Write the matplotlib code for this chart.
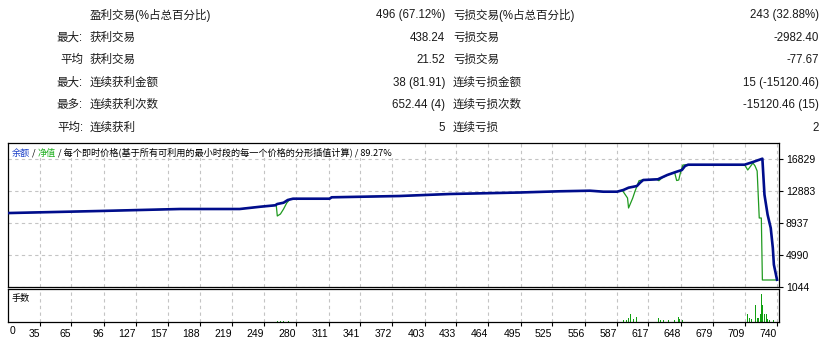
import matplotlib
matplotlib.use("agg")
import matplotlib.pyplot as plt
from matplotlib import font_manager
from matplotlib.patches import Rectangle

# summary table (six rows, two halves)
row_prefix = ["", "最大:", "平均", "最大:", "最多:", "平均:"]
win_labels = ["盈利交易(%占总百分比)", "获利交易", "获利交易", "连续获利金额", "连续获利次数", "连续获利"]
win_values = ["496 (67.12%)", "438.24", "21.52", "38 (81.91)", "652.44 (4)", "5"]
loss_labels = ["亏损交易(%占总百分比)", "亏损交易", "亏损交易", "连续亏损金额", "连续亏损次数", "连续亏损"]
loss_values = ["243 (32.88%)", "-2982.40", "-77.67", "15 (-15120.46)", "-15120.46 (15)", "2"]

# balance curve (trade number, value)
bal_trade = [0, 92, 169, 226, 246, 260, 262, 268, 272, 277, 312, 314, 379, 427, 494, 532, 561, 574, 587, 593,
             598, 606, 609, 612, 626, 635, 644, 649, 652, 655, 709, 717, 726, 728, 731, 734, 736, 737, 740]
bal_value = [10150, 10416, 10662, 10662, 10946, 11118, 11279, 11439, 11772, 11932, 11932, 12105, 12265, 12512,
             12697, 12845, 12919, 12796, 12796, 13005, 13289, 13498, 13905, 14238, 14325, 14855, 15262, 15471,
             15965, 16125, 16125, 16458, 16865, 12426, 9959, 8319, 5853, 3794, 1944]

# equity curve (trade number, value)
eq_trade = [0, 92, 169, 226, 246, 260, 261, 262, 265, 268, 271, 274, 277, 312, 314, 379, 427, 494, 532, 561,
            574, 587, 592, 597, 598, 602, 604, 608, 611, 625, 627, 630, 635, 642, 644, 646, 648, 650, 655, 709,
            712, 717, 719, 721, 723, 725, 726, 740]
eq_value = [10150, 10416, 10662, 10662, 10946, 11118, 11118, 9799, 10046, 10662, 11402, 11850, 11932, 11932,
            12105, 12265, 12512, 12697, 12845, 12919, 12796, 12796, 12968, 12018, 10785, 12018, 12796, 14152,
            14238, 14325, 14152, 14500, 14855, 15200, 14176, 14238, 15348, 16088, 16125, 16125, 15471, 16335,
            15965, 15348, 9552, 9552, 1907, 1907]

# lots per trade (only trades with visible bars)
lot_trade = [262, 265, 268, 273, 593, 596, 598, 600, 603, 606, 627, 629, 631, 636, 642, 646, 647, 650,
             712, 714, 716, 719, 721, 722, 724, 725, 726, 728, 730, 731, 733, 737]
lot_value = [0.1, 0.1, 0.1, 0.1, 0.17, 0.23, 0.4, 0.83, 0.33, 0.5, 0.43, 0.23, 0.17, 0.17, 0.23, 0.5, 0.33, 0.17,
             0.83, 0.43, 0.33, 1.67, 0.43, 0.43, 0.83, 2.83, 1.67, 0.83, 0.83, 0.33, 0.23, 0.23]

x_ticks = [35, 65, 96, 127, 157, 188, 219, 249, 280, 311, 341, 372, 403, 433, 464, 495, 525, 556, 587,
           617, 648, 679, 709, 740]
y_ticks = [1044, 4990, 8937, 12883, 16829]

W, H = 831, 342
def px(x, y):
	return x / W, 1 - y / H

names = {f.name for f in font_manager.fontManager.ttflist}
NARROW = "Liberation Sans Narrow" if "Liberation Sans Narrow" in names else "Liberation Sans"
TABLE_FONT = ["Liberation Sans", "Noto Sans CJK SC"]
CJK = ["Noto Sans CJK SC", "DejaVu Sans"]
GRID = dict(color="#c4c4c4", linestyle=(0, (3, 3)), linewidth=0.8)
BLUE = "#000d8c"
GREEN = "#1f9a1f"

fig = plt.figure(figsize=(W / 100, H / 100), dpi=100)

#table at the top
for i in range(6):
	y = 15 + 22.55 * i
	kw = dict(va="center", fontsize=8.3, family=TABLE_FONT, color="#1a1a1a")
	fig.text(*px(83, y), row_prefix[i], ha="right", **kw)
	fig.text(*px(90, y), win_labels[i], ha="left", **kw)
	fig.text(*px(445, y), win_values[i], ha="right", **kw)
	fig.text(*px(453, y), loss_labels[i], ha="left", **kw)
	fig.text(*px(819, y), loss_values[i], ha="right", **kw)

xlo, xhi = 4.4, 741.9
ylo = 1044
yhi = 1044 + (287 - 143) / 32 * 3946

#main panel: balance and equity
ax = fig.add_axes([8 / W, (H - 287) / H, 771 / W, 144 / H])
ax.plot(eq_trade, eq_value, color=GREEN, linewidth=0.9, zorder=3)
ax.plot(bal_trade, bal_value, color=BLUE, linewidth=1.9, zorder=4)
ax.set_xlim(xlo, xhi)
ax.set_ylim(ylo, yhi)
ax.set_xticks(x_ticks)
ax.set_yticks(y_ticks)
ax.set_xticklabels([])
ax.yaxis.tick_right()
ax.set_yticklabels([str(v) for v in y_ticks], family=NARROW, fontsize=7.5)
ax.tick_params(axis="x", length=0)
ax.tick_params(axis="y", length=3, width=0.8, pad=2)
ax.grid(True, **GRID)
for s in ax.spines.values():
	s.set_linewidth(0.9)
# white box behind the title hides the grid
ax.add_patch(Rectangle((0, 1 - 15 / 144), 390 / 771, 15 / 144, transform=ax.transAxes,
                       facecolor="white", edgecolor="none", zorder=2.5))

#title with coloured names
t1 = fig.text(*px(12, 153), "余额", color="#1a3fc8", fontsize=6.6, family=CJK, va="center")
t2 = plt.annotate(" / ", xy=(1, 0), xycoords=t1, va="bottom", fontsize=6.6, family=CJK, annotation_clip=False)
t3 = plt.annotate("净值", xy=(1, 0), xycoords=t2, va="bottom", color="#22b022", fontsize=6.6, family=CJK,
                  annotation_clip=False)
plt.annotate(" / 每个即时价格(基于所有可利用的最小时段的每一个价格的分形插值计算) / 89.27%", xy=(1, 0),
             xycoords=t3, va="bottom", fontsize=6.6, family=CJK, annotation_clip=False)

#lower panel: lots
ax2 = fig.add_axes([8 / W, (H - 322) / H, 771 / W, 33 / H])
ax2.bar(lot_trade, lot_value, width=1.0, color="#10a010", linewidth=0)
ax2.set_xlim(xlo, xhi)
ax2.set_ylim(0, 3.3)
ax2.set_yticks([])
ax2.set_xticks(x_ticks)
ax2.set_xticklabels([str(v) for v in x_ticks], family=NARROW, fontsize=7.5, ha="right")
ax2.tick_params(axis="x", length=3, width=0.8, pad=2)
ax2.grid(True, axis="x", **GRID)
for s in ax2.spines.values():
	s.set_linewidth(0.9)
ax2.text(0.002, -0.12, "0", transform=ax2.transAxes, ha="left", va="top", family=NARROW, fontsize=7.5)
ax2.text(*px(12, 298), "手数", transform=fig.transFigure, fontsize=6.6, family=CJK, va="center")

plt.savefig("out.png", dpi=100)
